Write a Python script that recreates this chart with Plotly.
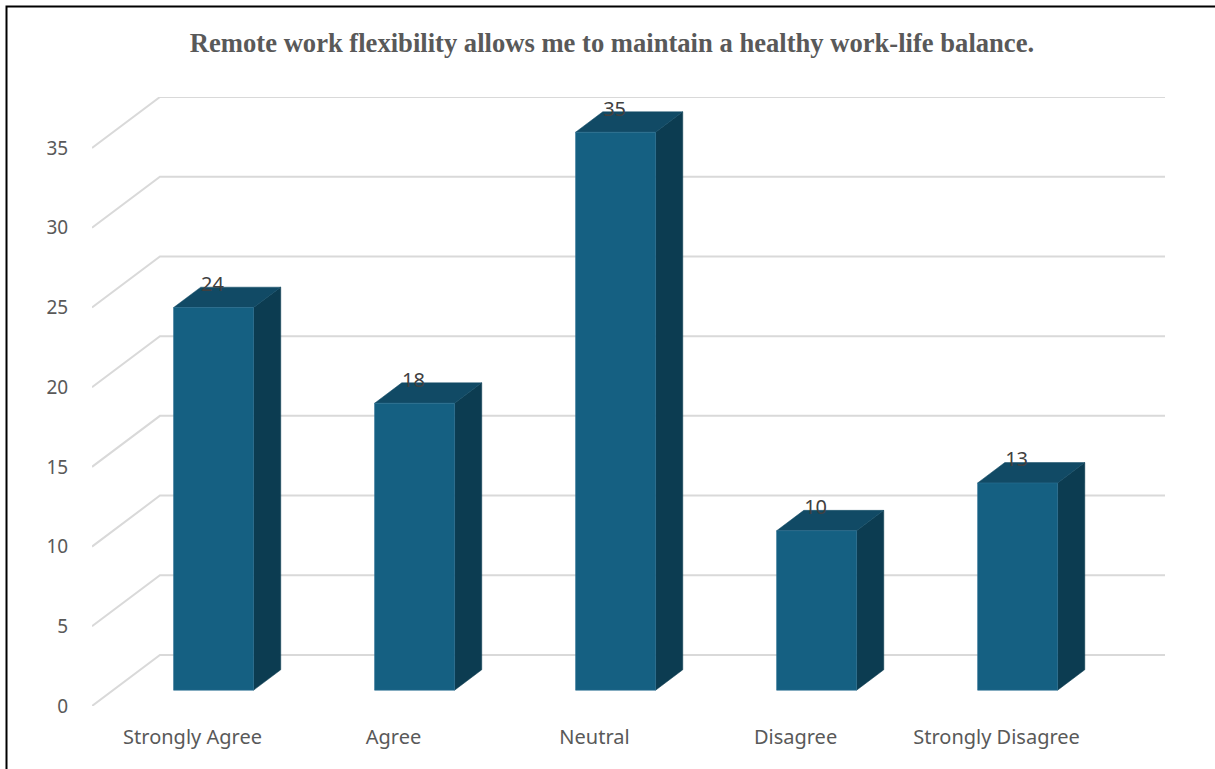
import plotly.graph_objects as go

# ---- data ----
categories = ["Strongly Agree", "Agree", "Neutral", "Disagree", "Strongly Disagree"]
values = [24, 18, 35, 10, 13]
y_ticks = [0, 5, 10, 15, 20, 25, 30, 35]
title_text = "Remote work flexibility allows me to maintain a healthy work-life balance."

# ---- 3D projection style parameters (in axis units) ----
DX = 0.338      # depth offset along x (category units)
DY = 3.2        # depth offset along y (value units)
D0, D1 = 0.31, 0.71   # bar depth extent (fraction of full depth)
HALF_W = 0.199  # half bar width (category units)

FRONT = "#156082"
TOP = "#114A65"
SIDE = "#0C3C51"
GRID = "#D9D9D9"
TXT = "#595959"

fig = go.Figure()

# gridlines: floor/side diagonal + back wall horizontal
x_left = -0.5
x_right = len(categories) - 0.5
for t in y_ticks:
    fig.add_trace(go.Scatter(
        x=[x_left, x_left + DX, x_right + DX],
        y=[t, t + DY, t + DY],
        mode="lines", line=dict(color=GRID, width=2),
        hoverinfo="skip", showlegend=False))

# bars
for i, v in enumerate(values):
    xl = i - HALF_W + D0 * DX
    xr = i + HALF_W + D0 * DX
    yb = D0 * DY
    yt = v + D0 * DY
    ddx = (D1 - D0) * DX
    ddy = (D1 - D0) * DY
    # side face
    fig.add_trace(go.Scatter(
        x=[xr, xr, xr + ddx, xr + ddx, xr],
        y=[yb, yt, yt + ddy, yb + ddy, yb],
        mode="lines", fill="toself", fillcolor=SIDE,
        line=dict(color=SIDE, width=0.5), hoverinfo="skip", showlegend=False))
    # top face
    fig.add_trace(go.Scatter(
        x=[xl, xr, xr + ddx, xl + ddx, xl],
        y=[yt, yt, yt + ddy, yt + ddy, yt],
        mode="lines", fill="toself", fillcolor=TOP,
        line=dict(color=TOP, width=0.5), hoverinfo="skip", showlegend=False))
    # front face
    fig.add_trace(go.Scatter(
        x=[xl, xr, xr, xl, xl],
        y=[yb, yb, yt, yt, yb],
        mode="lines", fill="toself", fillcolor=FRONT,
        line=dict(color="#2B7093", width=0.6), hoverinfo="skip", showlegend=False))

# data labels
fig.add_trace(go.Scatter(
    x=[i + D0 * DX - 0.005 for i in range(len(values))],
    y=[v + D1 * DY + 0.08 for v in values],
    text=[str(v) for v in values],
    mode="text", textposition="middle center",
    textfont=dict(family="Noto Sans, Open Sans, sans-serif", size=20, color="#404040"),
    hoverinfo="skip", showlegend=False, cliponaxis=False))

# outer border
L, R, T, B = 92, 50, 97, 63
W, H = 1215, 769
pw, ph = W - L - R, H - T - B
fig.add_shape(type="rect", xref="paper", yref="paper",
              x0=(6.5 - L) / pw, x1=(W + 10 - L) / pw,
              y0=(H - B - (H + 10)) / ph, y1=(H - B - 6.5) / ph,
              line=dict(color="black", width=2), fillcolor="rgba(0,0,0,0)")

fig.update_layout(
    width=W, height=H,
    margin=dict(l=L, r=R, t=T, b=B),
    paper_bgcolor="white", plot_bgcolor="white",
    title=dict(text="<b>" + title_text + "</b>", x=612 / W, xanchor="center",
               y=1 - 43 / H, yanchor="middle",
               font=dict(family="Liberation Serif, Times New Roman, serif", size=26.6, color=TXT)),
    xaxis=dict(range=[x_left, x_right + DX], tickvals=list(range(len(categories))),
               ticktext=categories, showgrid=False, zeroline=False, showline=False,
               ticks="outside", ticklen=13, tickcolor="rgba(0,0,0,0)",
               tickfont=dict(family="Noto Sans, Open Sans, sans-serif", size=20, color=TXT),
               fixedrange=True),
    yaxis=dict(range=[0, y_ticks[-1] + DY], tickvals=y_ticks,
               showgrid=False, zeroline=False, showline=False,
               ticks="outside", ticklen=19, tickcolor="rgba(0,0,0,0)",
               tickfont=dict(family="Noto Sans, Open Sans, sans-serif", size=19, color=TXT),
               fixedrange=True),
    showlegend=False,
)

fig.write_html("out.html")
